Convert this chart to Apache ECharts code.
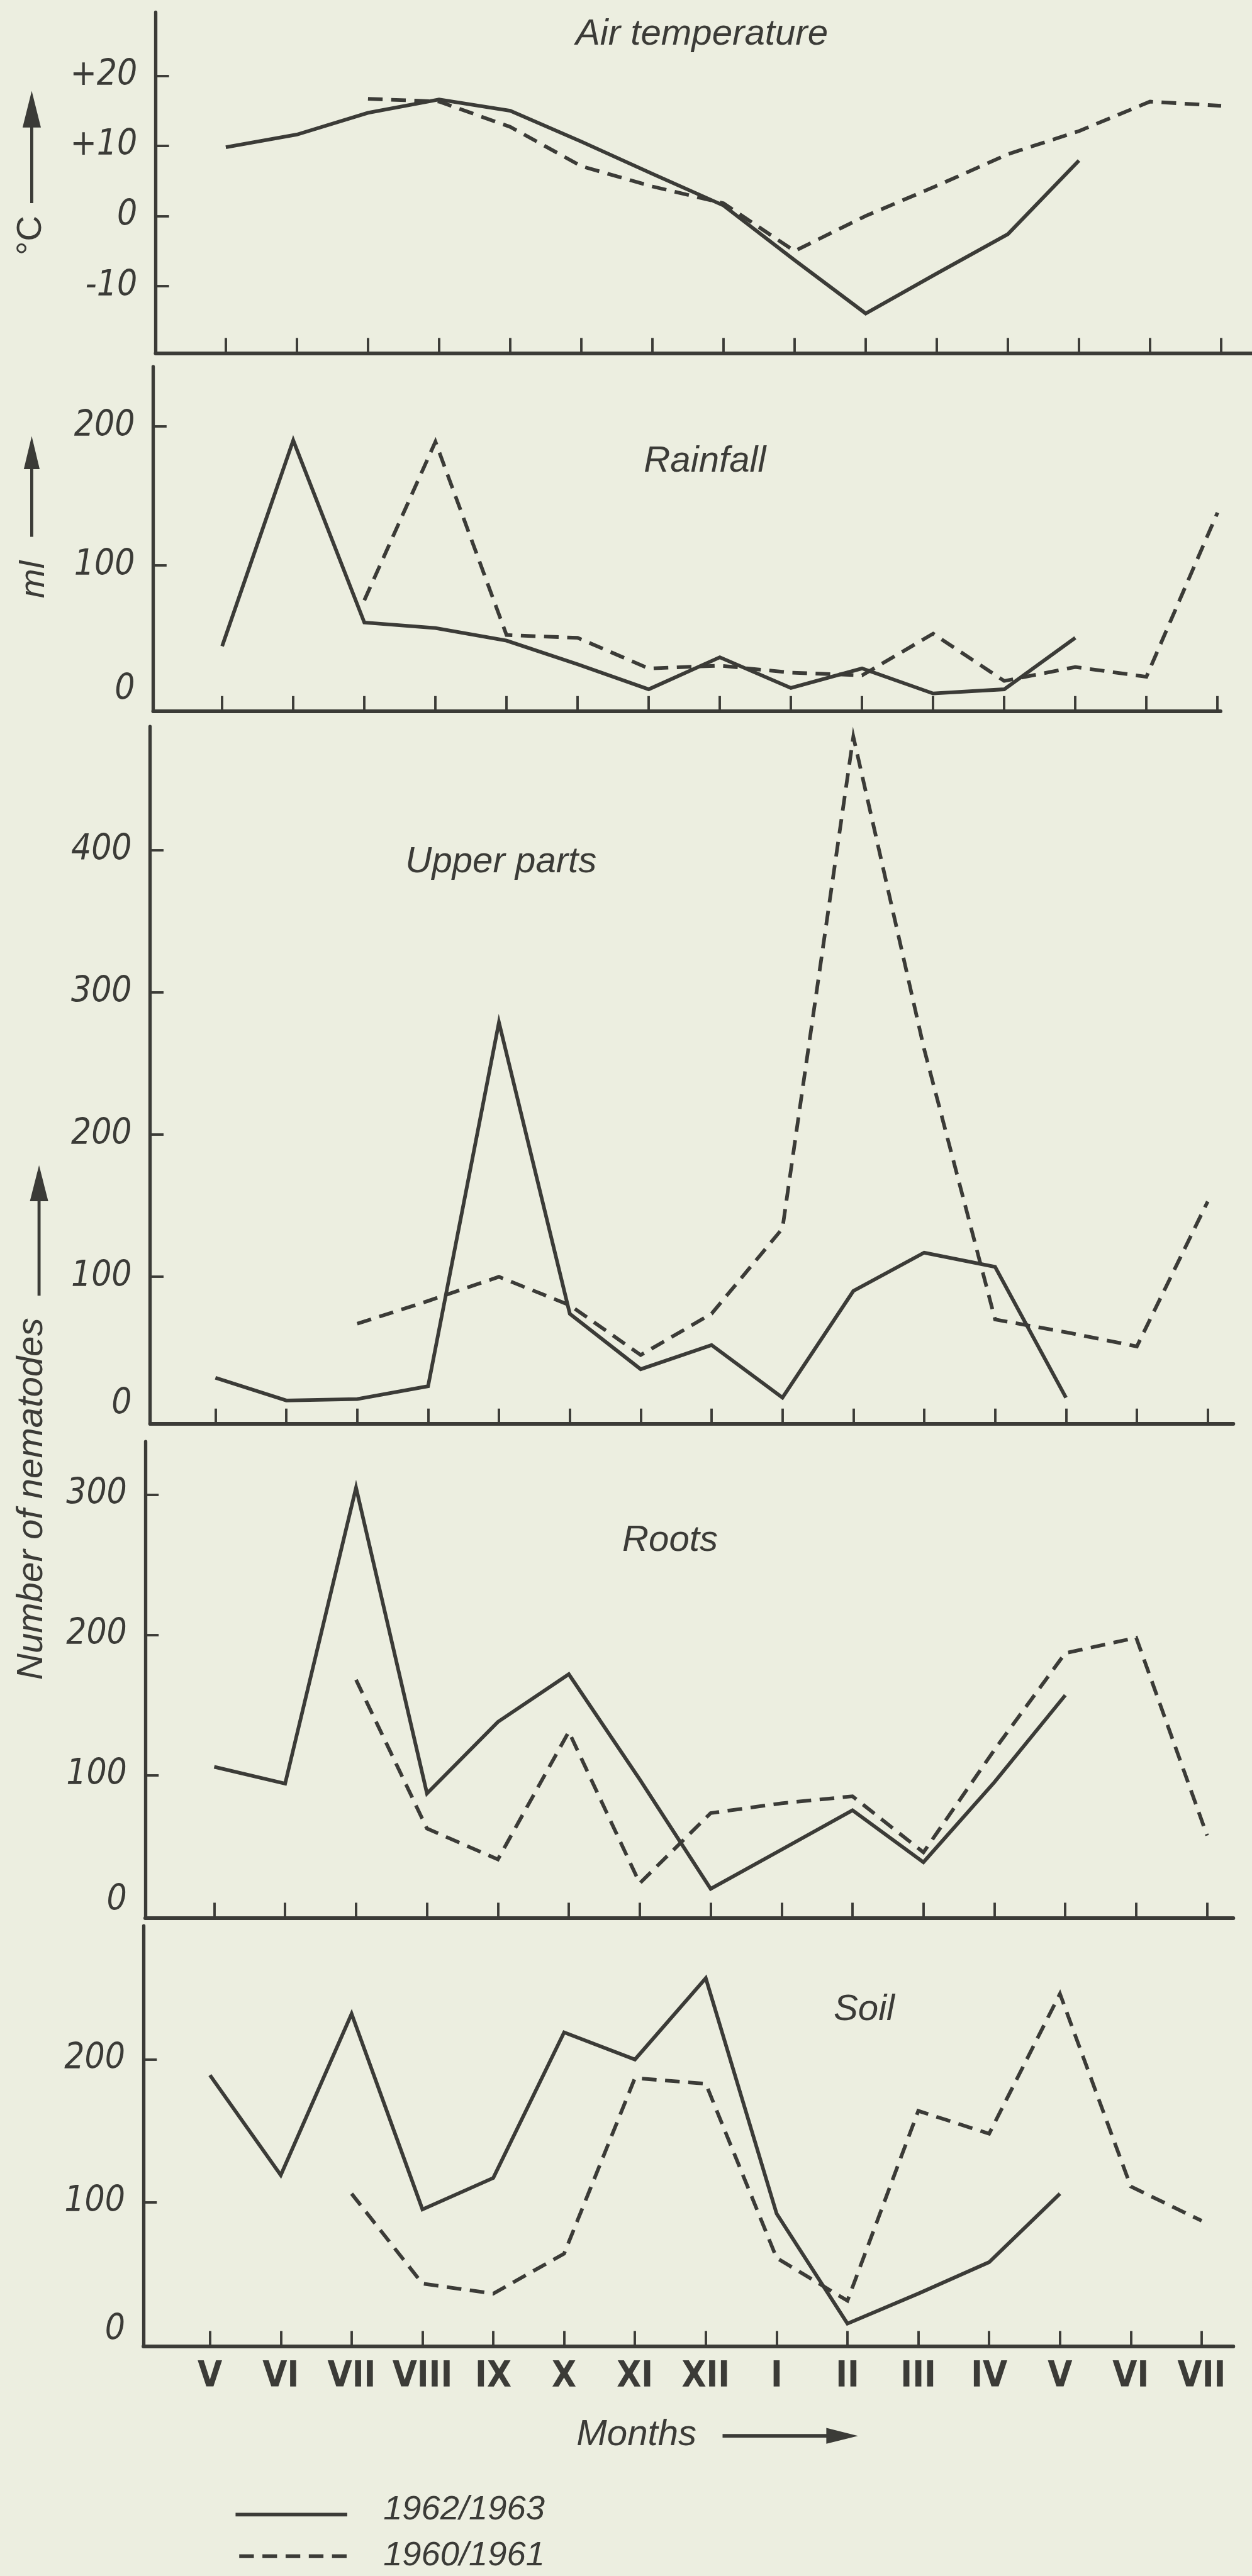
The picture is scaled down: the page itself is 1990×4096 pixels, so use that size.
<!DOCTYPE html>
<html>
<head>
<meta charset="utf-8">
<script src="https://cdn.jsdelivr.net/npm/echarts@6/dist/echarts.min.js"></script>
<style>
html,body{margin:0;padding:0;background:#eceee0;}
#chart{width:1990px;height:4096px;}
</style>
</head>
<body>
<div id="chart"></div>
<script>
// ---------------- DATA ----------------
const months = ['V','VI','VII','VIII','IX','X','XI','XII','I','II','III','IV','V','VI','VII'];
const seasonNames = ['1962/1963', '1960/1961'];

const tempTitle = 'Air temperature';
const temp6263 = [9.8, 11.6, 14.7, 16.6, 15, 10.6, 6, 1.5, -6.3, -13.9, -8.2, -2.6, 7.9, null, null];
const temp6061 = [null, null, 16.7, 16.3, 12.7, 7.1, 4.2, 1.8, -5, 0, 4.3, 8.8, 12.1, 16.3, 15.7];
const tempTicks = [-10, 0, 10, 20];

const rainTitle = 'Rainfall';
const rain6263 = [42, 190, 59, 55, 46, 29, 11, 34, 12, 26, 8, 11, 48, null, null];
const rain6061 = [null, null, 75, 189, 50, 48, 26, 28, 23, 21, 51, 17, 27, 20, 138];
const rainTicks = [100, 200];

const upperTitle = 'Upper parts';
const upper6263 = [29, 13, 14, 23, 279, 74, 35, 52, 15, 90, 117, 107, 15, null, null];
const upper6061 = [null, null, 67, 83, 100, 80, 45, 74, 134, 480, 260, 70, 61, 51, 153];
const upperTicks = [100, 200, 300, 400];

const rootsTitle = 'Roots';
const roots6263 = [106, 94, 305, 87, 138, 172, 97, 19, 47, 75, 38, 95, 157, null, null];
const roots6061 = [null, null, 168, 62, 40, 131, 23, 73, 80, 85, 45, 118, 187, 198, 57];
const rootsTicks = [100, 200, 300];

const soilTitle = 'Soil';
const soil6263 = [189, 119, 232, 95, 117, 219, 200, 257, 92, 15, 36, 58, 106, null, null];
const soil6061 = [null, null, 106, 43, 36, 64, 187, 183, 61, 31, 164, 148, 246, 111, 87];
const soilTicks = [100, 200];

const tempAxisName = '°C';
const rainAxisName = 'ml';
const nemaAxisName = 'Number of nematodes';
const xAxisName = 'Months';

// ---------------- LAYOUT (reference pixels, scaled by S) ----------------
const S = 0.97;
const s = v => v * S;
const INK = '#3b3b37';
const BG = '#eceee0';
const SANS = "'Liberation Sans', Arial, sans-serif";
const NARROW = "'Liberation Sans Narrow', 'DejaVu Sans Condensed', 'Liberation Sans', sans-serif";
const DASH = [s(24), s(14)];

const panels = [
  {title: tempTitle, a: temp6263, b: temp6061, ticks: tempTicks, plus: true, zeroTick: true,
   axisX: 255, firstTick: 370, lastTick: 2001, rightEnd: 2051, top: 20, base: 579, zeroY: 354, pxPerUnit: 11.5,
   titleX: 1150, titleY: 54},
  {title: rainTitle, a: rain6263, b: rain6061, ticks: rainTicks,
   axisX: 251, firstTick: 364, lastTick: 1995, rightEnd: 2000, top: 601, base: 1166, zeroY: 1155, pxPerUnit: 2.28,
   titleX: 1155, titleY: 754},
  {title: upperTitle, a: upper6263, b: upper6061, ticks: upperTicks,
   axisX: 246, firstTick: 353, lastTick: 1979, rightEnd: 2021, top: 1191, base: 2334, zeroY: 2326, pxPerUnit: 2.33,
   titleX: 821, titleY: 1410},
  {title: rootsTitle, a: roots6263, b: roots6061, ticks: rootsTicks,
   axisX: 238, firstTick: 351, lastTick: 1978, rightEnd: 2021, top: 2363, base: 3144, zeroY: 3140, pxPerUnit: 2.30,
   titleX: 1098, titleY: 2523},
  {title: soilTitle, a: soil6263, b: soil6061, ticks: soilTicks, monthLabels: true,
   axisX: 235, firstTick: 344, lastTick: 1969, rightEnd: 2021, top: 3157, base: 3846, zeroY: 3844, pxPerUnit: 2.34,
   titleX: 1416, titleY: 3292}
];

const toPairs = arr => arr.map((v, i) => v == null ? null : [i, v]).filter(p => p);
const monthIdx = months.map((m, i) => i);

const grids = [], xAxes = [], yAxes = [], series = [], graphics = [];

panels.forEach((p, k) => {
  const step = (p.lastTick - p.firstTick) / (months.length - 1);
  grids.push({
    left: s(p.axisX), top: s(p.top),
    width: s(p.rightEnd - p.axisX), height: s(p.base - p.top),
    containLabel: false
  });
  xAxes.push({
    type: 'value', gridIndex: k,
    min: (p.axisX - p.firstTick) / step,
    max: (p.rightEnd - p.firstTick) / step,
    axisLine: {show: true, onZero: false, lineStyle: {color: INK, width: s(6)}},
    axisTick: {show: true, inside: true, length: s(25), customValues: monthIdx,
               lineStyle: {color: INK, width: s(4)}},
    axisLabel: p.monthLabels ? {
      show: true, customValues: monthIdx, margin: s(22),
      formatter: v => months[Math.round(v)],
      color: INK, fontFamily: NARROW, fontWeight: 'bold', fontSize: s(58)
    } : {show: false},
    splitLine: {show: false}
  });
  const labelVals = p.zeroTick ? p.ticks : [0].concat(p.ticks);
  yAxes.push({
    type: 'value', gridIndex: k,
    min: (p.zeroY - p.base) / p.pxPerUnit,
    max: (p.zeroY - p.top) / p.pxPerUnit,
    axisLine: {show: true, onZero: false, lineStyle: {color: INK, width: s(5.5)}},
    axisTick: {show: true, inside: true, length: s(22), customValues: p.ticks,
               lineStyle: {color: INK, width: s(4)}},
    axisLabel: {
      show: true, customValues: labelVals, margin: s(30),
      color: INK, fontFamily: NARROW, fontStyle: 'italic', fontSize: s(58),
      formatter: v => {
        if (v === 0 && !p.zeroTick) return '{z|0}';
        return (p.plus && v > 0 ? '+' : '') + v;
      },
      rich: {z: {padding: [0, 0, s(48), 0], color: INK, fontFamily: NARROW, fontStyle: 'italic', fontSize: s(58)}}
    },
    splitLine: {show: false}
  });
  series.push({
    name: seasonNames[0], type: 'line', xAxisIndex: k, yAxisIndex: k,
    data: toPairs(p.a), symbol: 'none', animation: false, silent: true,
    lineStyle: {color: INK, width: s(6), type: 'solid', join: 'miter', miterLimit: 6}
  });
  series.push({
    name: seasonNames[1], type: 'line', xAxisIndex: k, yAxisIndex: k,
    data: toPairs(p.b), symbol: 'none', animation: false, silent: true,
    lineStyle: {color: INK, width: s(6), type: DASH, join: 'miter', miterLimit: 6}
  });
  graphics.push({
    type: 'text', x: s(p.titleX), y: s(p.titleY) + s(3),
    style: {text: p.title, fill: INK, font: `italic ${s(60)}px ${SANS}`, align: 'center', verticalAlign: 'middle'}
  });
});

// axis names with arrows
function vArrow(x, tipY, baseY, endY, halfW) {
  graphics.push({type: 'line', shape: {x1: s(x), y1: s(baseY - 2), x2: s(x), y2: s(endY)}, style: {stroke: INK, lineWidth: s(5)}});
  graphics.push({type: 'polygon', shape: {points: [[s(x), s(tipY)], [s(x - halfW), s(baseY)], [s(x + halfW), s(baseY)]]}, style: {fill: INK}});
}
vArrow(52, 149, 209, 333, 15);
vArrow(52, 715, 769, 880, 13);
vArrow(64, 1910, 1969, 2124, 15);

function vText(text, x, y, size, italic) {
  graphics.push({
    type: 'text', x: s(x), y: s(y), rotation: Math.PI / 2,
    style: {text: text, fill: INK, font: `${italic ? 'italic ' : ''}${s(size)}px ${SANS}`, align: 'center', verticalAlign: 'middle'}
  });
}
vText(tempAxisName, 51, 386, 58, false);
vText(rainAxisName, 56, 950, 58, true);
vText(nemaAxisName, 52, 2457, 60, true);

// Months label + arrow
graphics.push({type: 'text', x: s(1043), y: s(3992),
  style: {text: xAxisName, fill: INK, font: `italic ${s(60)}px ${SANS}`, align: 'center', verticalAlign: 'middle'}});
graphics.push({type: 'line', shape: {x1: s(1184), y1: s(3993), x2: s(1360), y2: s(3993)}, style: {stroke: INK, lineWidth: s(6)}});
graphics.push({type: 'polygon', shape: {points: [[s(1406), s(3993)], [s(1354), s(3980)], [s(1354), s(4006)]]}, style: {fill: INK}});

// Legend
graphics.push({type: 'line', shape: {x1: s(386), y1: s(4122), x2: s(569), y2: s(4122)}, style: {stroke: INK, lineWidth: s(6)}});
graphics.push({type: 'line', shape: {x1: s(392), y1: s(4190), x2: s(569), y2: s(4190)}, style: {stroke: INK, lineWidth: s(6), lineDash: DASH}});
graphics.push({type: 'text', x: s(628), y: s(4114),
  style: {text: seasonNames[0], fill: INK, font: `italic ${s(56)}px ${SANS}`, align: 'left', verticalAlign: 'middle'}});
graphics.push({type: 'text', x: s(628), y: s(4190),
  style: {text: seasonNames[1], fill: INK, font: `italic ${s(56)}px ${SANS}`, align: 'left', verticalAlign: 'middle'}});

const chart = echarts.init(document.getElementById('chart'), null, {renderer: 'canvas'});
chart.setOption({
  backgroundColor: BG,
  animation: false,
  grid: grids,
  xAxis: xAxes,
  yAxis: yAxes,
  series: series,
  graphic: graphics
});
</script>
</body>
</html>
